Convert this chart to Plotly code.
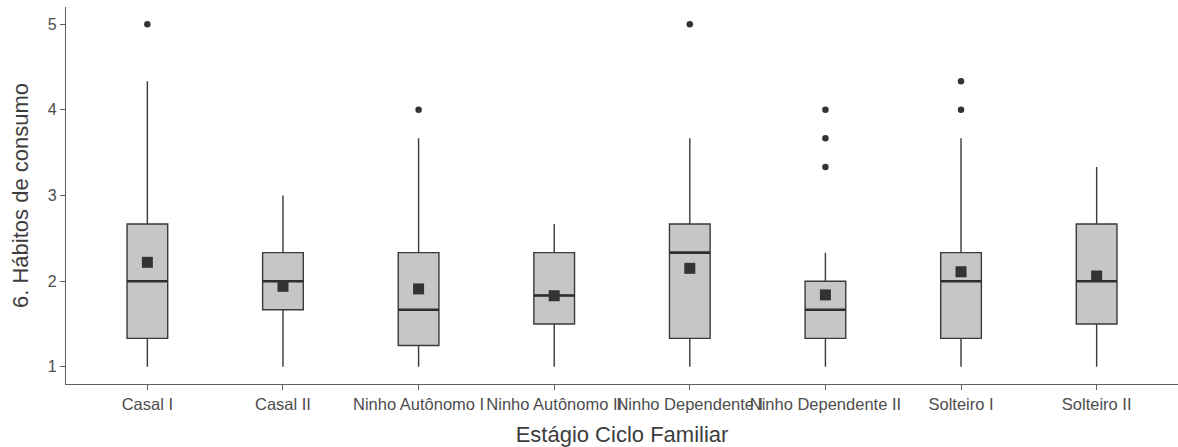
import plotly.graph_objects as go

categories = ["Casal I", "Casal II", "Ninho Autônomo I", "Ninho Autônomo II",
              "Ninho Dependente I", "Ninho Dependente II", "Solteiro I", "Solteiro II"]
q1 = [1.333, 1.667, 1.25, 1.5, 1.333, 1.333, 1.333, 1.5]
median = [2.0, 2.0, 1.667, 1.833, 2.333, 1.667, 2.0, 2.0]
q3 = [2.667, 2.333, 2.333, 2.333, 2.667, 2.0, 2.333, 2.667]
lower_whisker = [1, 1, 1, 1, 1, 1, 1, 1]
upper_whisker = [4.333, 3.0, 3.667, 2.667, 3.667, 2.333, 3.667, 3.333]
means = [2.22, 1.94, 1.91, 1.83, 2.15, 1.84, 2.11, 2.06]
outlier_cat = ["Casal I", "Ninho Autônomo I", "Ninho Dependente I",
               "Ninho Dependente II", "Ninho Dependente II", "Ninho Dependente II",
               "Solteiro I", "Solteiro I"]
outlier_val = [5.0, 4.0, 5.0, 3.333, 3.667, 4.0, 4.0, 4.333]
y_ticks = [1, 2, 3, 4, 5]

BOX_W = 0.3
pos = list(range(len(categories)))
idx = {c: i for i, c in enumerate(categories)}

fig = go.Figure()
fig.add_trace(go.Box(
    x=pos, q1=q1, median=median, q3=q3,
    lowerfence=lower_whisker, upperfence=upper_whisker,
    width=BOX_W, whiskerwidth=0,
    fillcolor="#c6c6c6",
    line=dict(color="#3a3a3a", width=1.4),
    boxpoints=False, hoverinfo="skip", showlegend=False,
))

# thicker median segments
mx, my = [], []
for i, m in zip(pos, median):
    mx += [i - BOX_W / 2, i + BOX_W / 2, None]
    my += [m, m, None]
fig.add_trace(go.Scatter(x=mx, y=my, mode="lines",
                         line=dict(color="#2e2e2e", width=2.6),
                         showlegend=False, hoverinfo="skip"))

fig.add_trace(go.Scatter(x=[idx[c] for c in outlier_cat], y=outlier_val, mode="markers",
                         marker=dict(color="#333333", size=6.5, symbol="circle"),
                         showlegend=False))

fig.add_trace(go.Scatter(x=pos, y=means, mode="markers",
                         marker=dict(color="#333333", size=11, symbol="square",
                                     line=dict(width=0)),
                         showlegend=False))

fig.update_layout(
    width=1178, height=447,
    margin=dict(l=66, r=0, t=7, b=63),
    paper_bgcolor="white", plot_bgcolor="white",
    font=dict(family="Liberation Sans, Arial, sans-serif", color="#4d4d4d"),
)
fig.update_xaxes(
    range=[-0.6, 7.6], tickmode="array", tickvals=pos, ticktext=categories,
    showline=True, linecolor="#5e5e5e", linewidth=1.4,
    ticks="outside", ticklen=5, tickcolor="#5e5e5e", tickwidth=1.2,
    showgrid=False, zeroline=False, tickangle=0,
    tickfont=dict(size=16.5, color="#4d4d4d"),
    title=dict(text="Estágio Ciclo Familiar", font=dict(size=22, color="#3d3d3d"), standoff=17),
)
fig.update_yaxes(
    range=[0.8, 5.2], tickmode="array", tickvals=y_ticks,
    showline=True, linecolor="#5e5e5e", linewidth=1.4,
    ticks="outside", ticklen=5, tickcolor="#5e5e5e", tickwidth=1.2,
    showgrid=False, zeroline=False,
    tickfont=dict(size=16, color="#4d4d4d"),
    title=dict(text="6. Hábitos de consumo", font=dict(size=22, color="#3d3d3d"), standoff=12),
)

fig.write_html("out.html", config={"displayModeBar": False},
               post_script="document.body.style.margin='0';document.body.style.padding='0';")
